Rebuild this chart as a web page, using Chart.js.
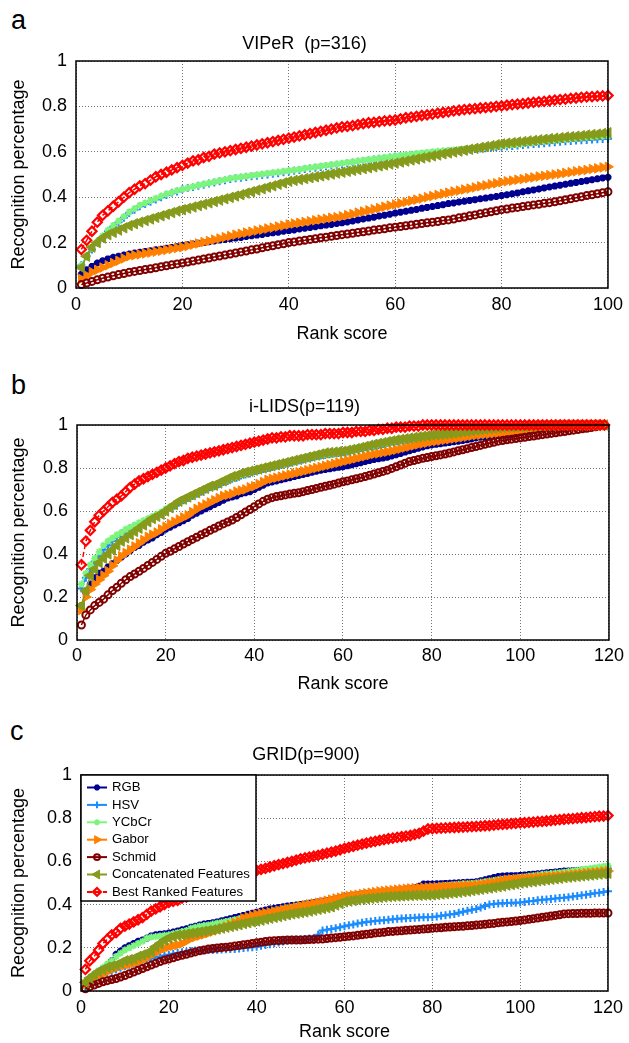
<!DOCTYPE html>
<html>
<head>
<meta charset="utf-8">
<script src="https://cdn.jsdelivr.net/npm/chart.js@4.4.0/dist/chart.umd.min.js"></script>
<style>
  body { margin: 0; background: #fff; width: 629px; height: 1043px; position: relative; overflow: hidden; font-family: "Liberation Sans", Arial, sans-serif; }
  .panel { position: absolute; left: 0; width: 629px; }
  .tag { position: absolute; font-size: 27px; line-height: 27px; color: #000; }
</style>
</head>
<body>
<div class="tag" style="left:11px;top:7px">a</div>
<div class="tag" style="left:11px;top:372px">b</div>
<div class="tag" style="left:10px;top:718px">c</div>
<div class="panel" style="top:0;height:345px"><canvas id="chartA"></canvas></div>
<div class="panel" style="top:345px;height:350px"><canvas id="chartB"></canvas></div>
<div class="panel" style="top:695px;height:348px"><canvas id="chartC"></canvas></div>
<script>
// rank axis (categories)
const ranksA = Array.from({length: 100}, (_, i) => i + 1);
const ranksB = Array.from({length: 119}, (_, i) => i + 1);
const ranksC = Array.from({length: 120}, (_, i) => i + 1);

const seriesNames = ['RGB', 'HSV', 'YCbCr', 'Gabor', 'Schmid', 'Concatenated Features', 'Best Ranked Features'];

// (a) VIPeR
const viperRgb = [
  .06,.08,.095,.11,.12,.128,.135,.14,.145,.15,
  .154,.157,.161,.164,.168,.171,.175,.178,.182,.187,
  .19,.194,.197,.2,.204,.207,.211,.214,.217,.22,
  .223,.227,.23,.233,.236,.24,.243,.246,.25,.253,
  .256,.26,.263,.267,.27,.274,.277,.28,.284,.287,
  .291,.295,.3,.304,.308,.312,.317,.321,.325,.33,
  .334,.338,.342,.346,.351,.355,.359,.363,.367,.372,
  .375,.379,.382,.386,.389,.393,.396,.40,.403,.407,
  .411,.415,.419,.424,.428,.432,.436,.441,.445,.449,
  .453,.457,.461,.465,.469,.473,.477,.481,.485,.488];
const viperHsv = [
  .10,.14,.17,.20,.22,.25,.27,.29,.31,.33,
  .345,.36,.37,.38,.39,.40,.41,.42,.425,.435,
  .44,.445,.45,.455,.46,.465,.47,.475,.48,.483,
  .486,.489,.492,.495,.498,.50,.503,.506,.51,.513,
  .516,.52,.524,.527,.53,.533,.536,.54,.543,.546,
  .55,.553,.556,.56,.563,.566,.569,.572,.575,.578,
  .58,.582,.585,.588,.59,.592,.595,.597,.60,.602,
  .604,.606,.608,.61,.612,.614,.616,.618,.62,.622,
  .624,.626,.628,.63,.632,.634,.636,.638,.64,.642,
  .644,.646,.648,.65,.651,.652,.654,.655,.656,.658];
const viperYcbcr = [
  .10,.14,.175,.205,.23,.255,.275,.295,.315,.335,
  .35,.365,.375,.385,.395,.405,.415,.42,.43,.435,
  .44,.447,.453,.458,.463,.468,.473,.478,.483,.486,
  .49,.493,.496,.499,.502,.505,.508,.511,.514,.517,
  .52,.523,.527,.53,.534,.537,.54,.543,.546,.55,
  .553,.556,.56,.563,.566,.569,.572,.575,.578,.581,
  .584,.587,.59,.592,.595,.597,.60,.602,.604,.606,
  .608,.61,.612,.614,.616,.618,.62,.623,.626,.628,
  .63,.632,.634,.637,.64,.642,.645,.647,.65,.652,
  .654,.656,.658,.66,.662,.664,.666,.668,.669,.67];
const viperGabor = [
  .04,.055,.07,.08,.09,.10,.11,.12,.13,.14,
  .144,.148,.152,.156,.16,.164,.168,.172,.176,.18,
  .185,.191,.196,.202,.207,.213,.218,.224,.229,.235,
  .239,.244,.248,.253,.257,.262,.266,.271,.275,.28,
  .284,.287,.291,.294,.298,.302,.305,.309,.312,.316,
  .321,.326,.332,.337,.342,.347,.352,.358,.363,.368,
  .373,.379,.384,.389,.394,.4,.405,.41,.415,.42,
  .425,.429,.434,.438,.443,.448,.452,.457,.461,.466,
  .47,.473,.477,.48,.484,.487,.491,.494,.497,.50,
  .503,.507,.51,.514,.517,.52,.524,.527,.531,.534];
const viperSchmid = [
  .015,.022,.029,.036,.043,.048,.054,.059,.064,.069,
  .073,.077,.081,.085,.089,.094,.098,.102,.106,.11,
  .114,.119,.123,.128,.132,.137,.141,.145,.15,.154,
  .159,.163,.168,.172,.177,.182,.186,.191,.195,.20,
  .203,.207,.210,.214,.217,.221,.224,.228,.231,.235,
  .238,.241,.245,.248,.251,.255,.258,.261,.265,.268,
  .271,.274,.277,.281,.284,.287,.29,.293,.297,.30,
  .304,.309,.313,.318,.322,.327,.331,.336,.34,.345,
  .348,.352,.355,.359,.362,.366,.369,.373,.376,.38,
  .384,.389,.393,.398,.402,.407,.411,.415,.42,.424];
const viperConcat = [
  .09,.14,.18,.20,.22,.235,.245,.255,.265,.275,
  .283,.29,.297,.304,.311,.318,.325,.332,.339,.345,
  .351,.357,.363,.369,.375,.381,.387,.393,.399,.405,
  .411,.418,.424,.431,.437,.444,.45,.457,.463,.47,
  .474,.478,.482,.486,.49,.494,.498,.502,.506,.51,
  .514,.518,.522,.526,.53,.534,.538,.542,.546,.55,
  .555,.559,.564,.568,.573,.577,.582,.586,.591,.595,
  .599,.603,.607,.611,.615,.619,.623,.627,.631,.635,
  .638,.64,.643,.645,.648,.65,.653,.655,.658,.66,
  .662,.665,.667,.669,.671,.674,.676,.678,.681,.684];
const viperBest = [
  .17,.21,.25,.29,.32,.34,.36,.38,.40,.42,
  .435,.45,.46,.475,.49,.50,.51,.52,.53,.54,
  .55,.56,.565,.575,.58,.59,.595,.60,.605,.61,
  .615,.62,.625,.63,.635,.64,.645,.65,.655,.66,
  .665,.67,.675,.68,.685,.69,.695,.70,.705,.71,
  .712,.715,.72,.724,.728,.73,.733,.736,.738,.74,
  .745,.75,.753,.756,.76,.763,.766,.77,.773,.776,
  .78,.783,.786,.788,.79,.793,.795,.797,.80,.802,
  .805,.808,.81,.812,.815,.818,.82,.822,.825,.828,
  .83,.832,.835,.837,.84,.842,.843,.845,.846,.848];

// (b) i-LIDS
const ilidsRgb = [
  .16,.22,.26,.29,.31,.32,.34,.355,.37,.385,
  .40,.415,.43,.44,.455,.465,.475,.49,.50,.515,
  .525,.535,.545,.555,.565,.58,.59,.60,.61,.62,
  .63,.64,.65,.66,.665,.67,.68,.685,.69,.70,
  .71,.72,.73,.735,.74,.745,.75,.755,.76,.765,
  .77,.775,.78,.785,.79,.793,.796,.80,.803,.806,
  .81,.815,.82,.825,.83,.835,.84,.843,.846,.85,
  .856,.862,.868,.874,.88,.886,.892,.898,.903,.907,
  .91,.913,.916,.919,.922,.925,.928,.931,.935,.94,
  .943,.945,.947,.949,.951,.952,.953,.956,.96,.965,
  .968,.971,.974,.977,.98,.982,.984,.986,.988,.99,
  .992,.993,.994,.995,.996,.997,.998,.999,1];
const ilidsHsv = [
  .24,.29,.33,.365,.39,.42,.44,.46,.48,.495,
  .51,.52,.53,.54,.55,.56,.57,.58,.59,.605,
  .615,.625,.64,.65,.66,.67,.68,.69,.70,.71,
  .715,.725,.735,.74,.75,.755,.765,.77,.775,.785,
  .79,.795,.80,.805,.81,.815,.82,.825,.83,.835,
  .84,.845,.85,.855,.858,.861,.864,.867,.87,.873,
  .877,.882,.887,.892,.897,.90,.903,.907,.912,.917,
  .922,.925,.928,.931,.934,.937,.94,.943,.946,.949,
  .952,.955,.957,.96,.962,.964,.966,.968,.97,.973,
  .975,.977,.979,.981,.983,.985,.987,.988,.99,.991,
  .992,.993,.994,.995,.996,.997,.998,.998,.999,1,
  1,1,1,1,1,1,1,1,1];
const ilidsYcbcr = [
  .26,.31,.35,.38,.41,.44,.46,.475,.49,.50,
  .515,.525,.535,.545,.555,.565,.575,.585,.595,.61,
  .62,.63,.645,.655,.665,.675,.685,.695,.705,.715,
  .72,.73,.74,.745,.755,.76,.77,.775,.78,.79,
  .795,.80,.805,.81,.815,.82,.825,.83,.835,.84,
  .845,.85,.855,.86,.862,.865,.867,.87,.873,.876,
  .88,.885,.89,.895,.90,.903,.906,.91,.915,.92,
  .925,.928,.931,.934,.937,.94,.943,.946,.949,.952,
  .955,.957,.96,.962,.964,.966,.968,.97,.972,.975,
  .977,.979,.981,.983,.985,.987,.988,.99,.991,.992,
  .993,.994,.995,.996,.997,.998,.998,.999,.999,1,
  1,1,1,1,1,1,1,1,1];
const ilidsGabor = [
  .14,.20,.235,.26,.28,.30,.32,.345,.37,.39,
  .405,.42,.435,.45,.465,.48,.49,.50,.515,.527,
  .54,.55,.56,.57,.58,.595,.61,.62,.63,.64,
  .65,.66,.67,.675,.68,.69,.695,.70,.71,.715,
  .725,.735,.745,.75,.755,.76,.765,.77,.775,.78,
  .785,.79,.795,.80,.805,.81,.815,.82,.825,.83,
  .835,.84,.845,.85,.855,.86,.865,.868,.872,.876,
  .88,.885,.89,.895,.90,.905,.91,.914,.918,.922,
  .925,.928,.931,.934,.937,.94,.943,.946,.95,.953,
  .955,.957,.959,.961,.963,.965,.967,.969,.971,.974,
  .976,.978,.98,.982,.984,.986,.988,.99,.991,.992,
  .993,.994,.995,.996,.997,.998,.999,1,1];
const ilidsSchmid = [
  .07,.116,.14,.16,.175,.19,.21,.23,.245,.264,
  .28,.295,.307,.32,.333,.347,.361,.375,.389,.403,
  .413,.424,.435,.446,.457,.468,.478,.489,.499,.51,
  .52,.53,.54,.549,.558,.57,.582,.595,.607,.62,
  .633,.645,.655,.662,.667,.671,.675,.679,.682,.685,
  .69,.695,.70,.705,.71,.715,.72,.725,.73,.736,
  .74,.745,.75,.755,.76,.766,.772,.778,.784,.79,
  .798,.806,.814,.822,.83,.835,.84,.845,.849,.853,
  .857,.861,.865,.87,.875,.88,.885,.89,.895,.90,
  .905,.91,.915,.92,.925,.928,.931,.934,.937,.94,
  .943,.946,.949,.952,.955,.958,.961,.964,.967,.97,
  .973,.976,.979,.982,.985,.988,.992,.996,1];
const ilidsConcat = [
  .16,.23,.30,.33,.36,.38,.40,.42,.44,.46,
  .475,.49,.505,.52,.535,.55,.565,.575,.585,.60,
  .615,.63,.645,.655,.665,.675,.685,.695,.705,.715,
  .72,.73,.74,.75,.76,.765,.775,.78,.785,.79,
  .795,.80,.805,.81,.815,.82,.825,.83,.835,.84,
  .845,.85,.855,.86,.865,.87,.872,.874,.876,.878,
  .882,.886,.89,.895,.90,.905,.91,.914,.918,.922,
  .926,.93,.933,.936,.939,.942,.945,.948,.95,.953,
  .955,.957,.959,.961,.963,.966,.969,.971,.974,.977,
  .979,.981,.983,.985,.987,.989,.99,.991,.992,.993,
  .994,.995,.996,.997,.998,.998,.999,.999,1,1,
  1,1,1,1,1,1,1,1,1];
const ilidsBest = [
  .35,.46,.51,.55,.58,.60,.62,.64,.655,.67,
  .69,.71,.725,.74,.75,.76,.77,.78,.79,.80,
  .81,.82,.83,.835,.845,.85,.855,.86,.865,.87,
  .875,.88,.885,.89,.895,.90,.905,.91,.915,.92,
  .925,.93,.935,.94,.94,.945,.945,.95,.95,.95,
  .95,.955,.955,.955,.955,.96,.96,.96,.96,.965,
  .965,.965,.97,.97,.97,.975,.975,.98,.98,.985,
  .985,.99,.99,.99,.995,.995,.995,1,1,1,
  1,1,1,1,1,1,1,1,1,1,
  1,1,1,1,1,1,1,1,1,1,
  1,1,1,1,1,1,1,1,1,1,
  1,1,1,1,1,1,1,1,1];

// (c) GRID
const gridRgb = [
  .03,.05,.07,.085,.10,.12,.14,.17,.185,.20,
  .21,.22,.23,.236,.245,.255,.26,.263,.265,.268,
  .273,.278,.283,.288,.295,.30,.305,.31,.313,.316,
  .32,.325,.33,.335,.34,.345,.35,.355,.36,.365,
  .37,.375,.38,.383,.386,.39,.393,.396,.398,.40,
  .403,.406,.409,.412,.415,.419,.423,.427,.432,.437,
  .44,.443,.446,.449,.451,.453,.455,.457,.459,.46,
  .463,.466,.469,.472,.475,.478,.485,.495,.495,.495,
  .496,.497,.498,.499,.50,.501,.502,.503,.504,.506,
  .51,.515,.52,.525,.53,.532,.533,.534,.534,.535,
  .537,.539,.541,.543,.545,.547,.549,.551,.553,.555,
  .556,.557,.558,.559,.56,.561,.562,.563,.564,.566];
const gridHsv = [
  .02,.04,.05,.062,.074,.083,.092,.10,.108,.115,
  .122,.128,.135,.14,.145,.15,.155,.16,.164,.168,
  .172,.176,.179,.182,.185,.187,.188,.189,.19,.19,
  .191,.192,.193,.194,.195,.197,.199,.201,.203,.205,
  .209,.213,.217,.221,.225,.229,.233,.237,.239,.24,
  .241,.243,.245,.26,.28,.284,.287,.29,.295,.30,
  .304,.308,.312,.316,.32,.322,.324,.326,.328,.33,
  .332,.334,.336,.337,.338,.339,.34,.341,.342,.343,
  .345,.348,.351,.354,.357,.362,.367,.372,.376,.38,
  .387,.394,.40,.403,.405,.406,.407,.408,.409,.41,
  .412,.415,.417,.42,.422,.424,.426,.428,.43,.432,
  .434,.437,.44,.443,.446,.449,.452,.455,.458,.462];
const gridYcbcr = [
  .04,.06,.08,.095,.11,.125,.14,.16,.175,.19,
  .20,.21,.22,.23,.245,.25,.252,.255,.258,.26,
  .265,.27,.275,.28,.29,.295,.30,.303,.306,.31,
  .314,.318,.322,.326,.33,.334,.338,.342,.346,.35,
  .355,.36,.365,.37,.375,.38,.384,.388,.392,.395,
  .398,.401,.404,.407,.41,.414,.418,.422,.426,.43,
  .433,.436,.439,.442,.445,.447,.449,.451,.453,.455,
  .458,.461,.464,.467,.47,.473,.476,.479,.48,.482,
  .484,.486,.488,.49,.492,.494,.496,.497,.498,.50,
  .503,.506,.509,.512,.515,.517,.519,.521,.523,.525,
  .528,.531,.534,.537,.54,.542,.544,.546,.548,.55,
  .553,.556,.559,.562,.565,.568,.571,.574,.577,.58];
const gridGabor = [
  .03,.045,.055,.068,.08,.09,.10,.108,.115,.12,
  .125,.13,.135,.145,.155,.167,.178,.188,.198,.205,
  .21,.213,.22,.23,.244,.25,.256,.262,.268,.275,
  .282,.29,.298,.306,.315,.323,.336,.342,.348,.354,
  .358,.36,.364,.368,.372,.376,.38,.383,.388,.393,
  .397,.401,.405,.409,.413,.418,.423,.428,.432,.437,
  .44,.443,.446,.449,.452,.455,.458,.461,.463,.465,
  .467,.469,.471,.473,.475,.476,.477,.478,.479,.48,
  .481,.482,.483,.484,.485,.486,.487,.488,.489,.49,
  .493,.496,.499,.502,.507,.512,.515,.517,.518,.52,
  .521,.523,.524,.526,.527,.529,.53,.532,.533,.535,
  .537,.539,.541,.543,.545,.547,.549,.551,.553,.555];
const gridSchmid = [
  .01,.02,.028,.035,.043,.048,.053,.058,.065,.072,
  .08,.088,.096,.104,.112,.12,.128,.136,.143,.148,
  .154,.16,.165,.17,.176,.181,.186,.19,.194,.197,
  .199,.201,.203,.205,.208,.211,.214,.217,.22,.223,
  .226,.229,.231,.233,.234,.235,.236,.236,.236,.236,
  .237,.238,.239,.24,.241,.243,.245,.247,.249,.251,
  .253,.255,.258,.26,.263,.265,.268,.27,.272,.275,
  .276,.278,.279,.281,.282,.284,.285,.287,.288,.29,
  .292,.293,.295,.296,.297,.299,.3,.302,.303,.305,
  .307,.309,.311,.313,.316,.318,.32,.322,.324,.326,
  .329,.332,.335,.338,.341,.344,.347,.35,.353,.357,
  .358,.359,.359,.36,.36,.36,.361,.361,.361,.361];
const gridConcat = [
  .04,.06,.075,.09,.10,.11,.115,.12,.13,.14,
  .145,.15,.16,.167,.175,.183,.205,.22,.235,.245,
  .252,.258,.26,.263,.267,.27,.273,.277,.28,.283,
  .287,.291,.295,.299,.303,.307,.312,.316,.32,.324,
  .328,.333,.337,.341,.345,.349,.353,.357,.36,.363,
  .366,.37,.374,.378,.382,.386,.39,.398,.405,.413,
  .416,.419,.422,.425,.427,.429,.431,.433,.435,.437,
  .438,.439,.44,.441,.442,.443,.443,.444,.444,.445,
  .447,.449,.451,.453,.455,.457,.46,.462,.465,.468,
  .471,.474,.477,.48,.483,.486,.49,.493,.496,.50,
  .502,.505,.507,.51,.512,.515,.517,.52,.522,.525,
  .527,.529,.531,.533,.535,.537,.539,.541,.543,.545];
const gridBest = [
  .10,.14,.16,.19,.22,.24,.26,.27,.29,.30,
  .31,.32,.33,.34,.355,.37,.38,.39,.40,.41,
  .415,.42,.43,.435,.445,.45,.46,.465,.475,.48,
  .49,.495,.505,.51,.52,.525,.535,.54,.55,.558,
  .563,.568,.574,.58,.585,.59,.595,.60,.606,.612,
  .616,.62,.624,.628,.633,.638,.643,.648,.654,.66,
  .665,.67,.675,.68,.685,.689,.693,.697,.701,.705,
  .708,.711,.714,.717,.72,.725,.73,.74,.75,.752,
  .753,.754,.755,.756,.757,.758,.759,.76,.761,.762,
  .763,.765,.766,.768,.77,.771,.773,.775,.776,.778,
  .779,.781,.782,.784,.785,.787,.789,.791,.793,.795,
  .797,.798,.80,.802,.803,.805,.807,.809,.81,.812];

// marker / line look for each series, MATLAB style
const seriesStyles = [
  {color: '#000090', pointStyle: 'star', rotation: 0, radius: 3.5, pointWidth: 2.4, filled: true, dash: []},
  {color: '#1A8CFF', pointStyle: 'cross', rotation: 0, radius: 4, pointWidth: 2, filled: true, dash: []},
  {color: '#7DF57D', pointStyle: 'star', rotation: 0, radius: 3.5, pointWidth: 1.8, filled: true, dash: []},
  {color: '#FF8000', pointStyle: 'triangle', rotation: 90, radius: 5.5, pointWidth: 1, filled: true, dash: []},
  {color: '#800000', pointStyle: 'circle', rotation: 0, radius: 3.5, pointWidth: 2, filled: false, dash: []},
  {color: '#869A1B', pointStyle: 'triangle', rotation: -90, radius: 6, pointWidth: 1, filled: true, dash: []},
  {color: '#FF0000', pointStyle: 'rectRot', rotation: 0, radius: 4.6, pointWidth: 2.2, filled: false, dash: [5, 3]}
];

const fontFamily = '"Liberation Sans", Arial, sans-serif';
Chart.defaults.font.family = fontFamily;
Chart.defaults.color = '#000';

// black box around the axes
const framePlugin = {
  id: 'frame',
  afterDatasetsDraw(chart) {
    const {ctx, chartArea: {left, top, right, bottom}} = chart;
    ctx.save();
    ctx.strokeStyle = '#000';
    ctx.lineWidth = 1.5;
    ctx.strokeRect(left, top, right - left, bottom - top);
    ctx.restore();
  }
};

// MATLAB-like boxed legend in the upper left corner of the axes
const boxLegendPlugin = {
  id: 'boxLegend',
  afterDraw(chart, args, opts) {
    if (!opts.show) return;
    const {ctx, chartArea} = chart;
    const x0 = chartArea.left, y0 = chartArea.top;
    ctx.save();
    ctx.fillStyle = '#fff';
    ctx.fillRect(x0, y0, opts.width, opts.height);
    ctx.strokeStyle = '#000';
    ctx.lineWidth = 1.5;
    ctx.strokeRect(x0, y0, opts.width, opts.height);
    ctx.font = opts.fontSize + 'px ' + fontFamily;
    ctx.textBaseline = 'middle';
    chart.data.datasets.forEach((ds, i) => {
      const cy = y0 + opts.firstRow + i * opts.rowGap;
      ctx.strokeStyle = ds.borderColor;
      ctx.lineWidth = 2;
      ctx.setLineDash(ds.borderDash || []);
      ctx.beginPath();
      ctx.moveTo(x0 + 6, cy);
      ctx.lineTo(x0 + 26, cy);
      ctx.stroke();
      ctx.setLineDash([]);
      ctx.fillStyle = ds.pointBackgroundColor;
      ctx.strokeStyle = ds.pointBorderColor;
      ctx.lineWidth = ds.pointBorderWidth;
      Chart.helpers.drawPoint(ctx, {
        pointStyle: ds.pointStyle, rotation: ds.rotation,
        radius: ds.pointRadius * 0.85, borderWidth: ds.pointBorderWidth
      }, x0 + 16, cy);
      ctx.fillStyle = '#000';
      ctx.fillText(ds.label, x0 + 31, cy);
    });
    ctx.restore();
  }
};

function makeChart(id, ranks, values, cfg) {
  const datasets = values.map((vals, i) => {
    const st = seriesStyles[i];
    return {
      label: seriesNames[i],
      data: ranks.map((r, k) => ({x: r, y: vals[k]})),
      borderColor: st.color,
      borderWidth: 1.5,
      borderDash: st.dash,
      backgroundColor: st.color,
      pointStyle: st.pointStyle,
      rotation: st.rotation,
      pointRadius: st.radius,
      pointBorderWidth: st.pointWidth,
      pointBorderColor: st.color,
      pointBackgroundColor: st.filled ? st.color : 'rgba(255,255,255,0)',
      tension: 0,
      clip: false,
      order: values.length - 1 - i
    };
  });

  return new Chart(document.getElementById(id), {
    type: 'line',
    data: {datasets},
    options: {
      responsive: true,
      maintainAspectRatio: false,
      animation: false,
      events: [],
      devicePixelRatio: 1,
      layout: {padding: {left: 0, top: 0, right: cfg.padRight, bottom: 0}},
      scales: {
        x: {
          type: 'linear', min: 0, max: cfg.xMax,
          ticks: {stepSize: 20, font: {size: 18}, color: '#000', padding: cfg.tickPad},
          grid: {color: 'rgba(0,0,0,0.55)', lineWidth: 1, drawTicks: false},
          border: {display: false, dash: [1, 2]},
          title: {display: true, text: 'Rank score', font: {size: 18}, color: '#000', padding: 0},
          afterFit: s => { s.height = cfg.xHeight; }
        },
        y: {
          min: 0, max: 1,
          ticks: {stepSize: 0.2, font: {size: 18}, color: '#000', padding: 9,
                  callback: v => String(Math.round(v * 10) / 10)},
          grid: {color: 'rgba(0,0,0,0.55)', lineWidth: 1, drawTicks: false},
          border: {display: false, dash: [1, 2]},
          title: {display: true, text: 'Recognition percentage', font: {size: 18}, color: '#000', padding: {top: 8, bottom: 0}},
          afterFit: s => { s.width = cfg.yWidth; }
        }
      },
      plugins: {
        title: {display: true, text: cfg.title, font: {size: 18, weight: 'normal'}, color: '#000',
                padding: {top: cfg.titleTop, bottom: cfg.titleBottom}},
        legend: {display: false},
        tooltip: {enabled: false},
        boxLegend: cfg.legend || {show: false}
      }
    },
    plugins: [framePlugin, boxLegendPlugin]
  });
}

makeChart('chartA', ranksA,
  [viperRgb, viperHsv, viperYcbcr, viperGabor, viperSchmid, viperConcat, viperBest],
  {title: 'VIPeR  (p=316)', xMax: 100, yWidth: 76, padRight: 20, xHeight: 57, tickPad: 6, titleTop: 33, titleBottom: 6.4});

makeChart('chartB', ranksB,
  [ilidsRgb, ilidsHsv, ilidsYcbcr, ilidsGabor, ilidsSchmid, ilidsConcat, ilidsBest],
  {title: 'i-LIDS(p=119)', xMax: 120, yWidth: 77, padRight: 20, xHeight: 55, tickPad: 5, titleTop: 51.7, titleBottom: 6.7});

makeChart('chartC', ranksC,
  [gridRgb, gridHsv, gridYcbcr, gridGabor, gridSchmid, gridConcat, gridBest],
  {title: 'GRID(p=900)', xMax: 120, yWidth: 81, padRight: 17, xHeight: 52, tickPad: 6, titleTop: 49.7, titleBottom: 8.7,
   legend: {show: true, width: 175, height: 126, firstRow: 12.5, rowGap: 17.4, fontSize: 13.2}});
</script>
</body>
</html>
